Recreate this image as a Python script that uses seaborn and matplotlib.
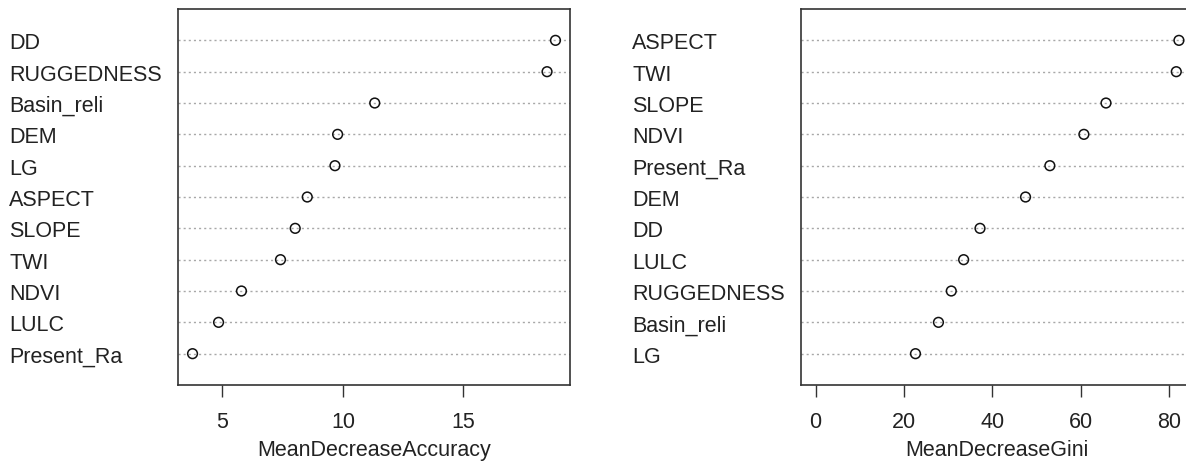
import matplotlib.pyplot as plt
import seaborn as sns
import pandas as pd

# variable importance (random forest)
acc_vars = ['DD', 'RUGGEDNESS', 'Basin_reli', 'DEM', 'LG', 'ASPECT',
            'SLOPE', 'TWI', 'NDVI', 'LULC', 'Present_Ra']
acc_vals = [18.82, 18.47, 11.32, 9.78, 9.67, 8.52, 8.02, 7.41, 5.79, 4.84, 3.76]
acc_ticks = [5, 10, 15]

gini_vars = ['ASPECT', 'TWI', 'SLOPE', 'NDVI', 'Present_Ra', 'DEM',
             'DD', 'LULC', 'RUGGEDNESS', 'Basin_reli', 'LG']
gini_vals = [82.2, 81.6, 65.7, 60.7, 53.0, 47.5, 37.2, 33.5, 30.7, 27.8, 22.6]
gini_ticks = [0, 20, 40, 60, 80]

sns.set_theme(style='white')
plt.rcParams['font.family'] = ['Liberation Sans', 'DejaVu Sans']

fig = plt.figure(figsize=(11.86, 4.64), dpi=100)
ax1 = fig.add_axes([0.1501, 0.1681, 0.3305, 0.8103])
ax2 = fig.add_axes([0.6754, 0.1681, 0.3309, 0.8103])


def dotchart(ax, names, vals, ticks, xlabel, from_zero=False):
    df = pd.DataFrame({'var': names, 'val': vals})
    sns.stripplot(data=df, x='val', y='var', order=names, jitter=False,
                  size=7, color='black', ax=ax)
    # open circles like R's dotchart
    for c in ax.collections:
        c.set_facecolor('none')
        c.set_edgecolor('#111111')
        c.set_linewidth(1.1)

    lo = 0 if from_zero else min(vals)
    hi = max(vals)
    r = hi - lo
    ax.set_xlim(lo - 0.04 * r, hi + 0.04 * r)
    ax.set_ylim(len(names), -1)

    ax.grid(axis='y', linestyle=(0, (1.5, 2.2)), color='#a8a8a8', linewidth=1.0)
    ax.grid(axis='x', visible=False)
    ax.set_axisbelow(True)

    ax.set_xticks(ticks)
    ax.set_xlabel(xlabel, fontsize=15.5, color='#222222', labelpad=5)
    ax.set_ylabel('')
    ax.tick_params(axis='x', bottom=True, direction='out', length=8.6, width=1,
                   color='#333333', labelsize=15.5, labelcolor='#222222', pad=10)
    ax.tick_params(axis='y', left=False, length=0, pad=121.5,
                   labelsize=15.5, labelcolor='#222222')
    for lab in ax.get_yticklabels():
        lab.set_horizontalalignment('left')
    for s in ax.spines.values():
        s.set_visible(True)
        s.set_color('#333333')
        s.set_linewidth(1.2)


dotchart(ax1, acc_vars, acc_vals, acc_ticks, 'MeanDecreaseAccuracy')
dotchart(ax2, gini_vars, gini_vals, gini_ticks, 'MeanDecreaseGini', from_zero=True)

fig.savefig('out.png', dpi=100)
